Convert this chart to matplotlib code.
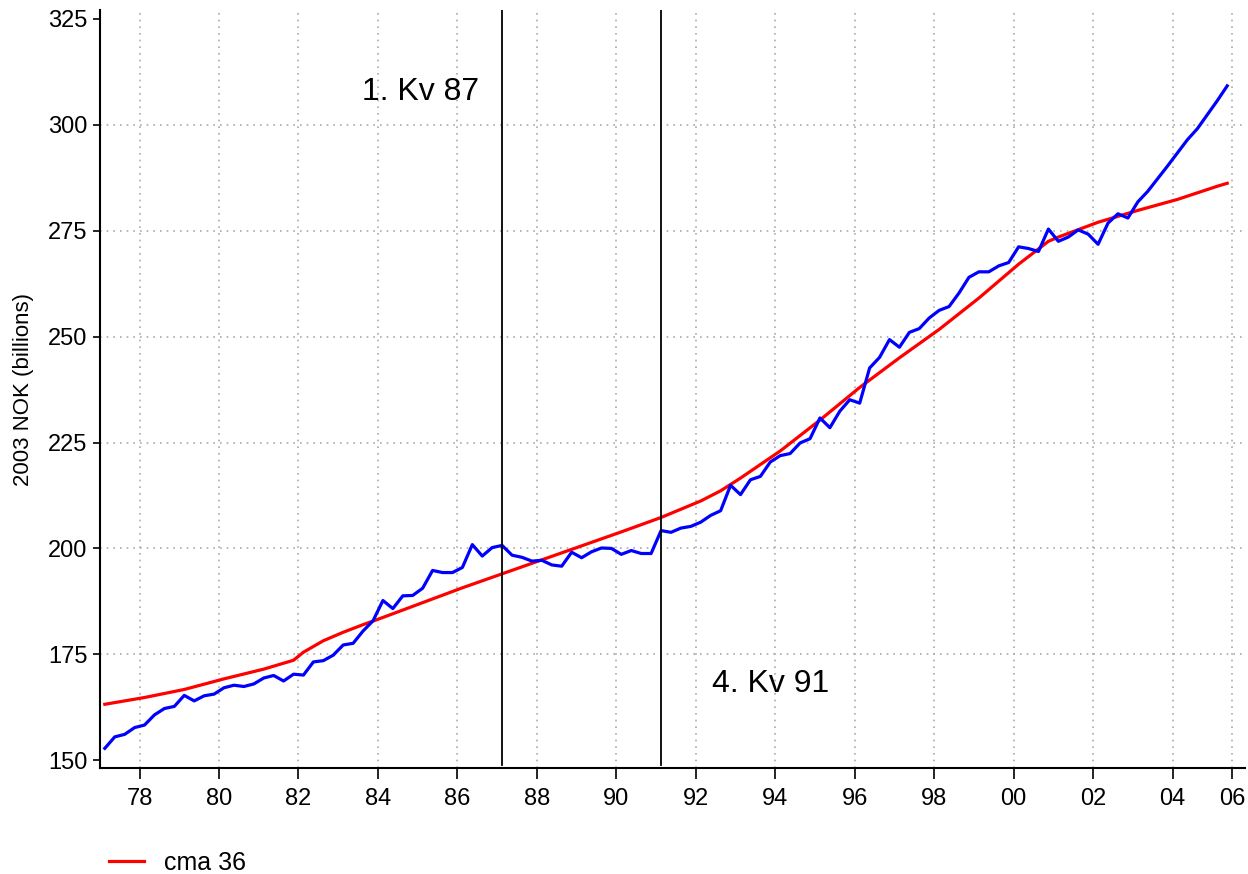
# Real GDP-like series, quarterly, with centered moving average (cma 36)

import numpy as np
import matplotlib.pyplot as plt

plt.rcParams['font.family'] = ['Liberation Sans', 'DejaVu Sans']

# quarterly values, 1977 Q1 - 2005 Q2 (2003 NOK, billions)
serie = [152.8, 155.5, 156.1, 157.7, 158.3, 160.7, 162.2, 162.7,
         165.3, 164.0, 165.2, 165.6, 167.1, 167.7, 167.4, 168.0,
         169.4, 170.0, 168.7, 170.3, 170.1, 173.2, 173.5, 174.8,
         177.2, 177.6, 180.5, 182.9, 187.7, 185.8, 188.8, 188.9,
         190.6, 194.8, 194.3, 194.3, 195.5, 200.9, 198.2, 200.2,
         200.7, 198.4, 197.9, 197.0, 197.2, 196.1, 195.8, 199.1,
         197.8, 199.2, 200.1, 200.0, 198.6, 199.5, 198.8, 198.8,
         204.2, 203.8, 204.8, 205.2, 206.2, 207.8, 208.9, 214.9,
         212.7, 216.2, 217.0, 220.4, 221.9, 222.4, 224.9, 225.9,
         230.8, 228.5, 232.4, 235.1, 234.3, 242.6, 245.1, 249.3,
         247.5, 251.0, 251.9, 254.4, 256.2, 257.1, 260.3, 264.0,
         265.3, 265.3, 266.7, 267.5, 271.2, 270.8, 270.1, 275.4,
         272.5, 273.5, 275.2, 274.2, 271.8, 276.8, 279.0, 278.0,
         281.8, 284.3, 287.3, 290.3, 293.4, 296.5, 299.1, 302.4,
         305.7, 309.2]

# cma 36, read at the first quarter of each year (+ a few bends)
cma_idx = [0, 4, 8, 12, 16, 19, 20, 22, 24, 26, 28, 32, 36, 40, 44, 48, 52, 56,
           60, 62, 64, 68, 72, 76, 80, 84, 88, 92, 95, 96, 100, 104, 108, 112, 113]
cma = [163.2, 164.8, 166.7, 169.2, 171.5, 173.6, 175.5, 178.2, 180.2, 182.0,
       183.7, 187.2, 190.7, 194.0, 197.3, 200.6, 203.9, 207.3,
       211.2, 213.6, 216.6, 223.0, 230.3, 238.0, 245.0, 251.7, 259.1, 267.1,
       272.5, 273.5, 277.0, 279.8, 282.4, 285.5, 286.2]

# brudd
brudd_idx = [40, 56]
brudd_txt = ['1. Kv 87', '4. Kv 91']

aar = list(range(1978, 2005, 2))
aar_lab = ['%02d' % (a % 100) for a in aar] + ['06']

t = 1977 + (np.arange(len(serie)) + 0.5) / 4

fig = plt.figure(figsize=(12.48, 8.74), dpi=100)
ax = fig.add_axes([0.080, 0.121, 0.9175, 0.8675])

ax.plot(t, serie, color='blue', lw=2.3, zorder=3)
linje, = ax.plot(t[cma_idx], cma, color='red', lw=2.3, zorder=2)

for i in brudd_idx:
    ax.axvline(t[i], ymin=0.004, color='black', lw=1.3, zorder=4)

ax.text(t[brudd_idx[0]] - 2.05, 307.8, brudd_txt[0], fontsize=23, ha='center', va='center')
ax.text(t[brudd_idx[1]] + 2.75, 168.0, brudd_txt[1], fontsize=23, ha='center', va='center')

ax.set_xlim(1977.0, 2005.82)
ax.set_ylim(148.1, 327.1)
ax.set_yticks(range(150, 326, 25))
ax.set_xticks(aar + [2005.5])
ax.set_xticklabels(aar_lab)
ax.tick_params(axis='x', length=8, width=1.2, pad=6, labelsize=17)
ax.tick_params(axis='y', length=5, width=1.2, pad=4, labelsize=17)
ax.set_ylabel('2003 NOK (billions)', fontsize=16, labelpad=10)

ax.grid(True, ls=(0, (1, 3)), color='#aaaaaa', lw=1.2)
ygrid = ax.get_ygridlines()
ygrid[0].set_visible(False)
ygrid[-1].set_visible(False)
for s in ['left', 'bottom']:
    ax.spines[s].set_linewidth(1.5)
for s in ['top', 'right']:
    ax.spines[s].set_visible(False)

fig.legend([linje], ['cma 36'], loc='lower left', bbox_to_anchor=(0.069, -0.027),
           frameon=False, fontsize=18, handlelength=1.4, handletextpad=0.8)

plt.savefig('out.png', dpi=100)
